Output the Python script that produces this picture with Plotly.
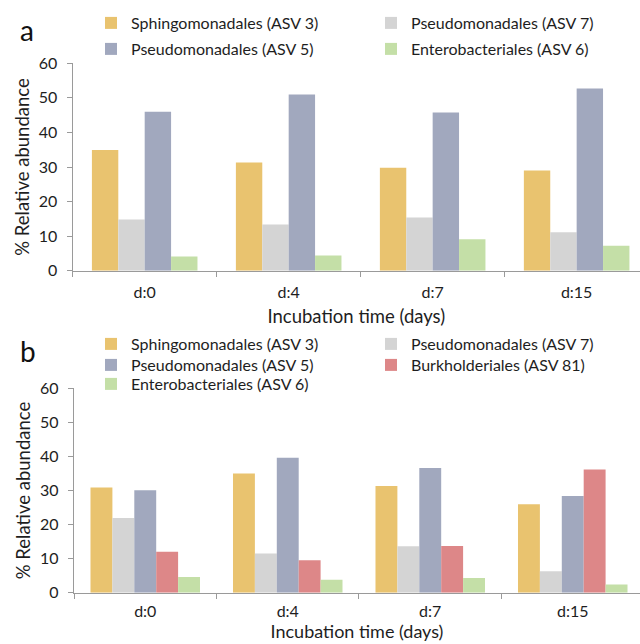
import plotly.graph_objects as go

# ---------------- data ----------------
days = ["d:0", "d:4", "d:7", "d:15"]

# panel a
a_sphingo_asv3 = [34.9, 31.3, 29.8, 29.0]
a_pseudo_asv7 = [14.8, 13.4, 15.4, 11.1]
a_pseudo_asv5 = [46.0, 51.0, 45.8, 52.7]
a_entero_asv6 = [4.1, 4.4, 9.1, 7.2]

# panel b
b_sphingo_asv3 = [30.9, 35.0, 31.3, 26.0]
b_pseudo_asv7 = [21.9, 11.5, 13.6, 6.3]
b_pseudo_asv5 = [30.1, 39.6, 36.6, 28.4]
b_burkh_asv81 = [12.0, 9.5, 13.7, 36.2]
b_entero_asv6 = [4.6, 3.8, 4.3, 2.4]

y_ticks = [0, 10, 20, 30, 40, 50, 60]

# ---------------- style ----------------
C_ORANGE = "#E9C36F"
C_GRAY = "#D4D4D4"
C_BLUE = "#A1A8BE"
C_RED = "#DD8788"
C_GREEN = "#C4DFA7"
FONT = "Lato"
TXT = "#1e1e1e"
AXC = "#9a9a9a"

W, H = 640, 644


def py(px):
    return 1 - px / H


fig = go.Figure()

top_series = [
    ("Sphingomonadales (ASV 3)", a_sphingo_asv3, C_ORANGE),
    ("Pseudomonadales (ASV 7)", a_pseudo_asv7, C_GRAY),
    ("Pseudomonadales (ASV 5)", a_pseudo_asv5, C_BLUE),
    ("Enterobacteriales (ASV 6)", a_entero_asv6, C_GREEN),
]
bot_series = [
    ("Sphingomonadales (ASV 3)", b_sphingo_asv3, C_ORANGE),
    ("Pseudomonadales (ASV 7)", b_pseudo_asv7, C_GRAY),
    ("Pseudomonadales (ASV 5)", b_pseudo_asv5, C_BLUE),
    ("Burkholderiales (ASV 81)", b_burkh_asv81, C_RED),
    ("Enterobacteriales (ASV 6)", b_entero_asv6, C_GREEN),
]

# legend placement (px of text start, px of row centre)
COL1_X, COL2_X = 131, 411
top_leg_pos = [(COL1_X, 23), (COL2_X, 23), (COL1_X, 49), (COL2_X, 49)]
bot_leg_pos = [(COL1_X, 344), (COL2_X, 344), (COL1_X, 365), (COL2_X, 365), (COL1_X, 384)]

LEG_TEXT_OFFSET = 40
LEG_FONT = dict(family=FONT, size=16, color=TXT)

layout_legends = {}
k = 0
tw = 0.1833
for i, (name, vals, col) in enumerate(top_series):
    k += 1
    lname = "legend" if k == 1 else f"legend{k}"
    fig.add_trace(go.Bar(x=days, y=vals, name=name, marker=dict(color=col, line=dict(width=0)),
                         width=tw, offset=-2 * tw + i * tw, showlegend=True,
                         xaxis="x", yaxis="y", legend=lname))
    lx, ly = top_leg_pos[i]
    layout_legends[lname] = dict(x=(lx - LEG_TEXT_OFFSET) / W, y=py(ly), xanchor="left", yanchor="middle",
                                 orientation="h", bgcolor="rgba(0,0,0,0)", borderwidth=0, visible=True,
                                 font=LEG_FONT)

bw = 0.1537
for i, (name, vals, col) in enumerate(bot_series):
    k += 1
    lname = f"legend{k}"
    fig.add_trace(go.Bar(x=days, y=vals, name=name, marker=dict(color=col, line=dict(width=0)),
                         width=bw, offset=-2.5 * bw + i * bw, showlegend=True,
                         xaxis="x2", yaxis="y2", legend=lname))
    lx, ly = bot_leg_pos[i]
    layout_legends[lname] = dict(x=(lx - LEG_TEXT_OFFSET) / W, y=py(ly), xanchor="left", yanchor="middle",
                                 orientation="h", bgcolor="rgba(0,0,0,0)", borderwidth=0, visible=True,
                                 font=LEG_FONT)


def xaxis_style(label_standoff, title_size, title_standoff):
    return dict(type="category", showline=True, linecolor=AXC, linewidth=1.3, automargin=False,
                ticks="outside", tickson="boundaries", ticklen=5, tickcolor=AXC,
                showgrid=False, zeroline=False, ticklabelstandoff=label_standoff,
                tickfont=dict(family=FONT, size=16, color=TXT),
                title=dict(text="Incubation time (days)", font=dict(family=FONT, size=title_size, color=TXT),
                           standoff=title_standoff))


yaxis_common = dict(range=[0, 60], tickvals=y_ticks, showline=True, linecolor=AXC, linewidth=1.3, automargin=False,
                    ticks="outside", ticklen=5, tickcolor=AXC, showgrid=False, zeroline=False,
                    ticklabelstandoff=6,
                    tickfont=dict(family=FONT, size=16, color=TXT),
                    title=dict(text="% Relative abundance", font=dict(family=FONT, size=18.5, color=TXT), standoff=4))

fig.update_layout(
    template="none",
    width=W, height=H,
    margin=dict(l=0, r=0, t=0, b=0, autoexpand=False),
    paper_bgcolor="white", plot_bgcolor="white",
    barmode="group",
    showlegend=True,
    font=dict(family=FONT, color=TXT),
    xaxis=dict(domain=[72.7 / W, 1], range=[-0.5, 3.44], anchor="y", **xaxis_style(7, 18.5, 10)),
    yaxis=dict(domain=[py(270.7), py(63.3)], anchor="x", **yaxis_common),
    xaxis2=dict(domain=[74 / W, 1], range=[-0.5, 3.472], anchor="y2", **xaxis_style(4, 18, 4)),
    yaxis2=dict(domain=[py(592.7), py(388.3)], anchor="x2", **yaxis_common),
    **layout_legends,
)

fig.add_annotation(text="a", x=27 / W, y=py(30), xref="paper", yref="paper", showarrow=False,
                   xanchor="center", yanchor="middle", font=dict(family=FONT, size=28, color="#111"))
fig.add_annotation(text="b", x=28 / W, y=py(351), xref="paper", yref="paper", showarrow=False,
                   xanchor="center", yanchor="middle", font=dict(family=FONT, size=28, color="#111"))

fig.write_html("out.html", config={"displayModeBar": False},
               post_script="document.body.style.margin='0px';")
